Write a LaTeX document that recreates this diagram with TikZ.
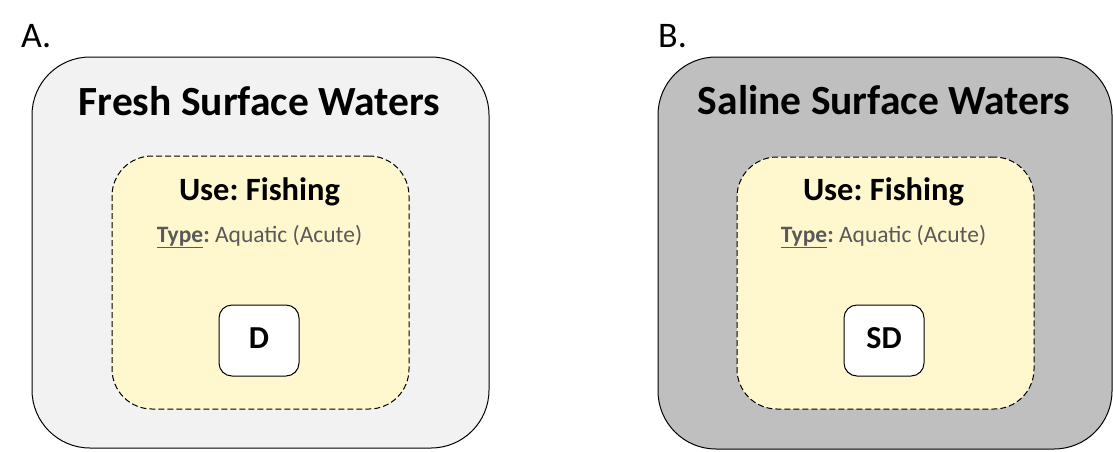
\documentclass[tikz,border=0pt]{standalone}
\usepackage{fontspec}
\setmainfont{Carlito}
\frenchspacing
\definecolor{freshfill}{HTML}{F2F2F2}
\definecolor{salinefill}{HTML}{BFBFBF}
\definecolor{usefill}{HTML}{FFF8CF}
\definecolor{typegray}{HTML}{595959}
\tikzset{
  outerbox/.style={draw=black, line width=1pt, rounded corners=58pt, inner sep=0pt},
  usebox/.style={draw=black, line width=1pt, dash pattern=on 6pt off 3pt, fill=usefill, rounded corners=40pt, inner sep=0pt, minimum width=297pt, minimum height=253pt},
  codebox/.style={draw=black, line width=1pt, fill=white, rounded corners=13pt, inner sep=0pt, minimum width=80pt, minimum height=71pt},
  paneltitle/.style={anchor=base, font=\fontsize{41.5}{46}\selectfont\bfseries},
  usetitle/.style={anchor=base, font=\fontsize{32.5}{36}\selectfont\bfseries},
  typeline/.style={anchor=base, text=typegray, font=\fontsize{23.5}{27}\selectfont},
  codetext/.style={anchor=base, font=\fontsize{32}{36}\selectfont\bfseries},
  letter/.style={anchor=base west, inner sep=0pt, font=\fontsize{36}{40}\selectfont},
}
\begin{document}
\begin{tikzpicture}[x=1pt,y=-1pt]
\useasboundingbox (0,0) rectangle (1113,451);
% Panel A
\node[letter] (la) at (21,47) {A.};
\node[outerbox, fill=freshfill, minimum width=457pt, minimum height=391pt] (outa) at (260.5,252.5) {};
\node[usebox] (usea) at (260.5,282.5) {};
\node[codebox] (boxd) at (259,340.5) {};
\node[paneltitle] (ta) at (259.5,115) {Fresh Surface Waters};
\node[usetitle] (ua) at (259.5,200) {Use: Fishing};
\node[typeline] (ya) at (259.5,242) {\textbf{\underline{Type}:} Aquatic (Acute)};
\node[codetext] (da) at (259,348) {D};
% Panel B
\node[letter] (lb) at (658,47) {B.};
\node[outerbox, fill=salinefill, minimum width=454pt, minimum height=392pt] (outb) at (885,253) {};
\node[usebox, minimum height=252pt] (useb) at (885.5,283) {};
\node[codebox] (boxsd) at (884,340.5) {};
\node[paneltitle] (tb) at (884,114) {Saline Surface Waters};
\node[usetitle] (ub) at (883.5,200) {Use: Fishing};
\node[typeline] (yb) at (883.5,242) {\textbf{\underline{Type}:} Aquatic (Acute)};
\node[codetext] (sdb) at (884,348) {SD};
\end{tikzpicture}
\end{document}
